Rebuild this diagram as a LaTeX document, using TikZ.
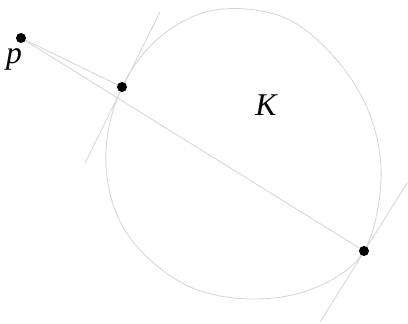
\documentclass[tikz,border=0pt]{standalone}
\usepackage{fontspec}
\setmainfont{Liberation Serif}
\definecolor{kGray}{HTML}{D4D4D4}
\usetikzlibrary{positioning,backgrounds}

\begin{document}
\begin{tikzpicture}[
  x=0.03cm,y=-0.03cm,
  line/.style={draw=kGray,line width=0.7pt},
  dot/.style={circle,fill=black,inner sep=0pt,minimum size=0.3cm},
  lbl/.style={font=\fontsize{27}{32}\selectfont\itshape},
]
  \useasboundingbox (0,0) rectangle (408,323);

  \node[dot] (p) at (21,38) {};
  \node[lbl] (plbl) at (14,59) {p};
  \node[dot] (a) at (122,87) {};
  \node[dot] (b) at (364,251) {};
  \node[lbl] (K) at (266,105) {K};

  % tangent ends
  \coordinate (ta1) at (85,163);
  \coordinate (ta2) at (160,12);
  \coordinate (tb1) at (320,322);
  \coordinate (tb2) at (407,183);

  \begin{scope}[on background layer]
    % the convex body
    \draw[line] plot[smooth cycle,tension=0.6] coordinates {
      (122,87) (160,37) (215,10) (283,17) (335,58) (370,115) (381,180)
      (364,251) (317,287) (257,299) (195,289) (145,255) (115,210)
      (106,150)};
    \draw[line] (p.center) -- (a.center);
    \draw[line] (p.center) -- (b.center);
    \draw[line] (ta1) -- (ta2);
    \draw[line] (tb1) -- (tb2);
  \end{scope}
\end{tikzpicture}
\end{document}
